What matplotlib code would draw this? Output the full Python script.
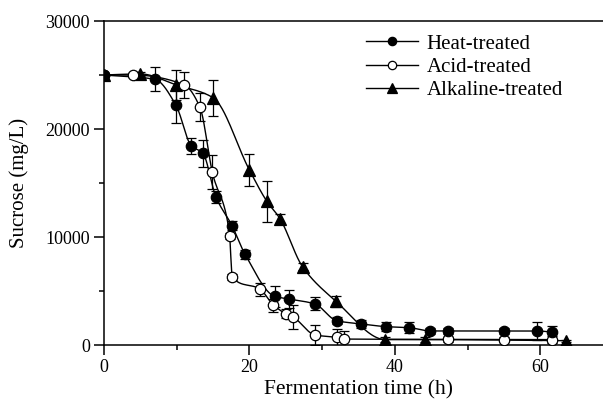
import numpy as np
import matplotlib
matplotlib.use("Agg")
import matplotlib.pyplot as plt
from matplotlib.ticker import MultipleLocator

# fermentation time (h), sucrose (mg/L), error (mg/L)
heat_t = [0, 7, 9.9, 12.0, 13.6, 15.4, 17.6, 19.4, 23.5, 25.5, 29.0, 32.0,
          35.4, 38.8, 42.0, 44.9, 47.3, 55.0, 59.5, 61.6]
heat_s = [25000, 24600, 22200, 18450, 17750, 13700, 11050, 8400, 4500, 4250,
          3800, 2250, 1950, 1700, 1600, 1300, 1300, 1300, 1300, 1200]
heat_e = [0, 1100, 1600, 750, 1250, 550, 400, 400, 1000, 850, 600, 350,
          400, 400, 500, 300, 300, 300, 800, 600]

acid_t = [0, 4, 11.0, 13.2, 14.9, 17.3, 17.6, 21.5, 23.3, 25.0, 26.0, 29.0,
          32.0, 33.0, 47.3, 55.0, 61.6]
acid_s = [25000, 25000, 24100, 22000, 16000, 10100, 6300, 5150, 3700, 2900,
          2600, 930, 700, 550, 520, 500, 500]
acid_e = [0, 200, 1200, 1300, 1600, 300, 300, 600, 600, 400, 1150, 900,
          750, 750, 200, 200, 300]

alk_t = [0, 5, 9.9, 15.0, 20.0, 22.4, 24.2, 27.3, 31.9, 38.7, 44.2, 63.6]
alk_s = [25000, 25100, 24100, 22900, 16200, 13300, 11700, 7250, 4050, 500,
         500, 400]
alk_e = [0, 200, 1400, 1650, 1450, 1900, 400, 300, 500, 200, 200, 100]


def pchip(x, y, xs):
    # monotone cubic interpolation for the smooth guide line
    x = np.asarray(x, float)
    y = np.asarray(y, float)
    h = np.diff(x)
    d = np.diff(y) / h
    m = np.zeros_like(y)
    for k in range(1, len(x) - 1):
        if d[k - 1] * d[k] > 0:
            w1 = 2 * h[k] + h[k - 1]
            w2 = h[k] + 2 * h[k - 1]
            m[k] = (w1 + w2) / (w1 / d[k - 1] + w2 / d[k])
    m[0] = d[0]
    m[-1] = d[-1]
    i = np.clip(np.searchsorted(x, xs) - 1, 0, len(x) - 2)
    t = (xs - x[i]) / h[i]
    h00 = 2 * t**3 - 3 * t**2 + 1
    h10 = t**3 - 2 * t**2 + t
    h01 = -2 * t**3 + 3 * t**2
    h11 = t**3 - t**2
    return h00 * y[i] + h10 * h[i] * m[i] + h01 * y[i + 1] + h11 * h[i] * m[i + 1]


plt.rcParams['font.family'] = ['Liberation Serif', 'DejaVu Serif']

fig = plt.figure(figsize=(6.03, 3.99), dpi=100)
ax = fig.add_axes([104 / 603, 54 / 399, 509 / 603, 324 / 399])

series = [
    (alk_t, alk_s, alk_e, '^', 'black', 'Alkaline-treated', 9),
    (acid_t, acid_s, acid_e, 'o', 'white', 'Acid-treated', 7.5),
    (heat_t, heat_s, heat_e, 'o', 'black', 'Heat-treated', 7.5),
]
handles = {}
for t, s, e, mk, fc, lab, ms in series:
    xs = np.linspace(t[0], t[-1], 400)
    ax.plot(xs, pchip(t, s, xs), color='black', lw=1.0, zorder=2)
    ax.errorbar(t, s, yerr=e, fmt='none', ecolor='black', elinewidth=0.9,
                capsize=3.5, capthick=0.9, zorder=3)
    ax.plot(t, s, ls='none', marker=mk, ms=ms, mfc=fc, mec='black',
            mew=0.9, zorder=4)
    handles[lab] = plt.Line2D([], [], color='black', lw=1.0, marker=mk,
                              ms=ms - 1.5, mfc=fc, mec='black', mew=0.9)

order = ['Heat-treated', 'Acid-treated', 'Alkaline-treated']
ax.legend([handles[k] for k in order], order, loc='upper left',
          bbox_to_anchor=(0.499, 0.985), frameon=False, fontsize=15,
          handlelength=2.5, handletextpad=0.4, labelspacing=0.17,
          numpoints=1, borderaxespad=0)

ax.set_xlim(0, 70)
ax.set_ylim(0, 30000)
ax.xaxis.set_major_locator(MultipleLocator(20))
ax.xaxis.set_minor_locator(MultipleLocator(10))
ax.yaxis.set_major_locator(MultipleLocator(10000))
ax.yaxis.set_minor_locator(MultipleLocator(5000))
ax.tick_params(which='major', direction='out', length=7, width=1.1,
               labelsize=13, pad=3)
ax.tick_params(which='minor', direction='out', length=3.5, width=1.1)
for sp in ax.spines.values():
    sp.set_linewidth(1.1)
ax.spines['right'].set_visible(False)

ax.set_xlabel('Fermentation time (h)', fontsize=15.5, labelpad=3)
ax.set_ylabel('Sucrose (mg/L)', fontsize=15, labelpad=12)

fig.savefig('out.png', dpi=100)
